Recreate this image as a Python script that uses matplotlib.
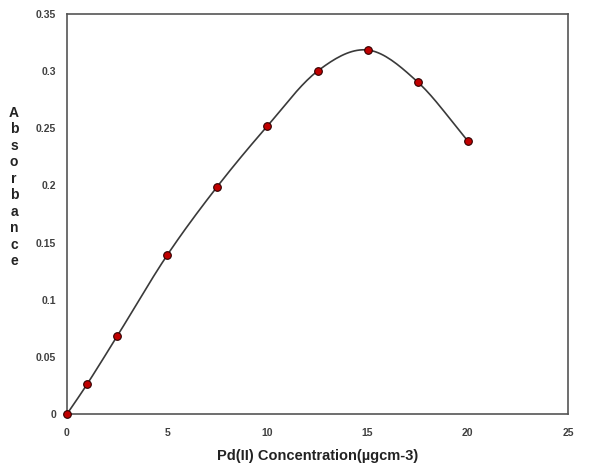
import numpy as np
import matplotlib
matplotlib.use("Agg")
import matplotlib.pyplot as plt

# data
conc = [0, 1, 2.5, 5, 7.5, 10, 12.5, 15, 17.5, 20]
absorb = [0.0, 0.026, 0.068, 0.139, 0.199, 0.252, 0.300, 0.3185, 0.2905, 0.239]
xticks = [0, 5, 10, 15, 20, 25]
yticks = [0, 0.05, 0.1, 0.15, 0.2, 0.25, 0.3, 0.35]

plt.rcParams["font.family"] = ["Liberation Sans", "DejaVu Sans"]


def smooth(x, y, n=20):
    """Catmull-Rom style smoothing, like a spreadsheet smoothed line"""
    x = np.asarray(x, float)
    y = np.asarray(y, float)
    px = np.concatenate([[2 * x[0] - x[1]], x, [2 * x[-1] - x[-2]]])
    py = np.concatenate([[2 * y[0] - y[1]], y, [2 * y[-1] - y[-2]]])
    xs, ys = [], []
    t = np.linspace(0, 1, n)
    for i in range(1, len(px) - 2):
        for p, out in ((px, xs), (py, ys)):
            p0, p1, p2, p3 = p[i - 1], p[i], p[i + 1], p[i + 2]
            c1 = p1 + (p2 - p0) / 6
            c2 = p2 - (p3 - p1) / 6
            out.extend((1 - t) ** 3 * p1 + 3 * (1 - t) ** 2 * t * c1
                       + 3 * (1 - t) * t ** 2 * c2 + t ** 3 * p2)
    return xs, ys


fig = plt.figure(figsize=(6.16, 4.63), dpi=100)
ax = fig.add_axes([67 / 616, 49 / 463, 501 / 616, 400 / 463])

sx, sy = smooth(conc, absorb)
ax.plot(sx, sy, color="#3a3a3a", lw=1.2, zorder=2)
ax.plot(conc, absorb, "o", ms=5.5, mfc="#C00000", mec="#300000", mew=0.8,
        zorder=3, clip_on=False)

ax.set_xlim(0, 25)
ax.set_ylim(0, 0.35)
ax.set_xticks(xticks)
ax.set_xticklabels([str(v) for v in xticks])
ax.set_yticks(yticks)
ax.set_yticklabels(["0" if v == 0 else ("%g" % v) for v in yticks])
ax.tick_params(length=0, labelsize=7.5, labelcolor="#404040")
ax.tick_params(axis="y", pad=8)
ax.tick_params(axis="x", pad=10)
for lab in ax.get_xticklabels() + ax.get_yticklabels():
    lab.set_fontweight("bold")
for s in ax.spines.values():
    s.set_color("#555555")
    s.set_linewidth(1.2)

ax.set_xlabel("Pd(II) Concentration(µgcm-3)", fontsize=10.5,
              fontweight="bold", color="#222222", labelpad=8)
fig.text(14 / 616, 1 - 187 / 463, "\n".join("Absorbance"), ha="center",
         va="center", fontsize=10, fontweight="bold", color="#222222",
         linespacing=1.23)

plt.savefig("out.png", dpi=100)
